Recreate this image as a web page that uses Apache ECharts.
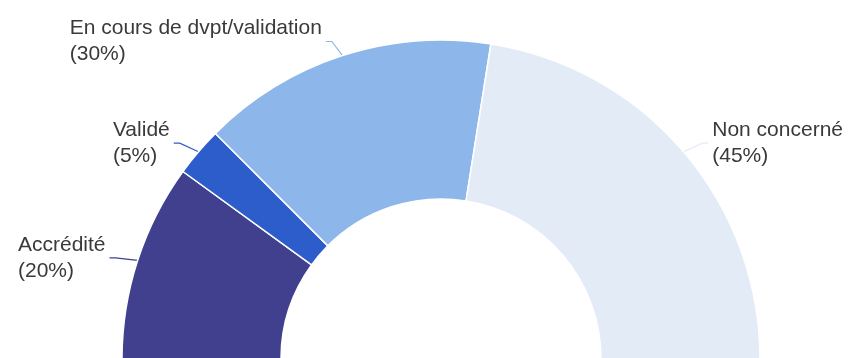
<!DOCTYPE html>
<html>
<head>
<meta charset="utf-8">
<script src="https://cdn.jsdelivr.net/npm/echarts@6/dist/echarts.min.js"></script>
<style>
	html, body { margin: 0; padding: 0; background: #fff; }
	#chart { width: 853px; height: 358px; }
</style>
</head>
<body>
<div id="chart"></div>
<script>
// slices in clockwise order, starting from the left end of the half ring
var categories = ['Accrédité', 'Validé', 'En cours de dvpt/validation', 'Non concerné'];
var percents = [20, 5, 30, 45];
var colors = ['#41408f', '#2d5dca', '#8db6ea', '#e3ebf7'];

var datas = [];
for (var i = 0; i < categories.length; i++)
{
	datas.push({ name: categories[i], value: percents[i], itemStyle: { color: colors[i] } });
}

var chart = echarts.init(document.getElementById('chart'));

var options =
{
	animation: false,
	series:
	[
		{
			type: 'pie',
			center: [441, 359],
			radius: [160, 319],
			startAngle: 180,
			endAngle: 360,
			avoidLabelOverlap: false,
			itemStyle:
			{
				borderColor: '#fff',
				borderWidth: 1.5
			},
			label:
			{
				show: true,
				position: 'outside',
				formatter: '{b}\n({c}%)',
				fontFamily: 'Liberation Sans, Arial, sans-serif',
				fontSize: 21,
				lineHeight: 26,
				color: '#3a3a3a',
				padding: [0, 4]
			},
			labelLine:
			{
				show: true,
				length: 18,
				length2: 6,
				lineStyle: { width: 1.2 }
			},
			// keep each label's box where ECharts put it, but left-align its lines
			labelLayout: function(params)
			{
				var r = params.labelRect;
				return { x: r.x, y: r.y + r.height / 2 + 3, align: 'left', verticalAlign: 'middle' };
			},
			emphasis: { disabled: true },
			data: datas
		}
	]
};

chart.setOption(options);
</script>
</body>
</html>
